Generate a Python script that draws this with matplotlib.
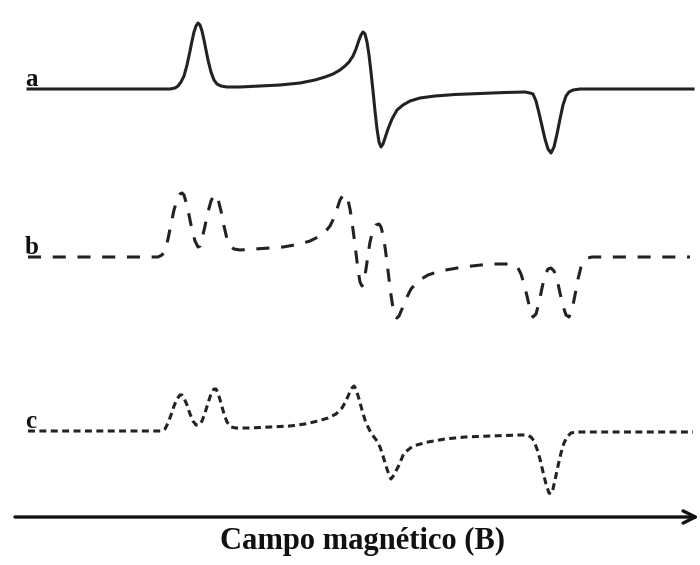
import matplotlib
matplotlib.use("Agg")
import matplotlib.pyplot as plt

# magnetic field (arbitrary units) and signal height above each baseline
field_a = [28, 150, 170, 175, 178, 181, 184, 187, 190, 192, 194, 196, 198,
           200, 202, 204, 206, 208, 211, 214, 217, 221, 227, 240, 260, 280,
           300, 315, 325, 333, 340, 345, 349, 353, 356, 359, 361, 363, 365,
           367, 369, 371, 373, 375, 377, 379, 381, 383, 385, 388, 392, 397,
           403, 410, 420, 435, 455, 480, 505, 525, 530, 533, 536, 539, 542,
           545, 548, 551, 554, 557, 560, 563, 566, 569, 573, 580, 693]
signal_a = [0, 0, 0, 1, 3, 7, 13, 24, 38, 48, 57, 63, 66,
            64, 58, 49, 39, 29, 17, 9, 5, 3, 2, 2, 3, 4,
            6, 9, 12, 15, 19, 23, 27, 33, 40, 49, 54, 57, 55,
            47, 34, 17, -2, -22, -40, -53, -58, -55, -49, -40, -30, -21,
            -16, -12, -9, -7, -5.5, -4.5, -3.5, -3, -4, -5, -12, -24, -37,
            -50, -60, -64, -58, -45, -30, -16, -7, -3, -1, 0, 0]

field_b = [28, 158, 162, 165, 168, 171, 174, 177, 180, 182, 184, 186, 189,
           192, 195, 198, 200, 202, 205, 208, 211, 214, 216, 218, 221, 224,
           227, 230, 234, 240, 255, 270, 283, 300, 310, 318, 325, 330, 334,
           337, 340, 343, 346, 348, 350, 352, 354, 356, 358, 360, 362, 364,
           366, 368, 370, 373, 376, 379, 381, 383, 385, 387, 389, 391, 393,
           395, 397, 399, 402, 406, 411, 418, 428, 440, 463, 490, 508, 514,
           518, 521, 524, 527, 530, 533, 536, 539, 542, 545, 548, 551, 554,
           557, 560, 563, 566, 569, 572, 575, 578, 581, 584, 588, 592, 690]
signal_b = [0, 0, 2, 6, 18, 33, 47, 57, 63, 64, 62, 55, 42,
            27, 16, 10, 11, 18, 31, 45, 56, 62, 62, 58, 46, 31,
            18, 11, 8, 7, 8, 9, 10, 13, 16, 20, 25, 31, 39,
            48, 57, 62, 62, 57, 48, 35, 20, 4, -13, -25, -29, -24,
            -12, 2, 15, 27, 32, 33, 30, 22, 10, -5, -22, -38, -51,
            -59, -61, -59, -52, -42, -32, -24, -18, -14, -10, -7, -7, -8,
            -11, -17, -27, -39, -52, -60, -57, -46, -31, -18, -12, -11, -14,
            -22, -36, -49, -58, -60, -53, -38, -22, -10, -4, -1, 0, 0]

field_c = [28, 162, 165, 168, 171, 174, 177, 180, 182, 184, 187, 190, 193,
           196, 199, 202, 205, 208, 211, 214, 216, 218, 221, 224, 227, 231,
           236, 250, 270, 290, 305, 318, 328, 336, 342, 346, 349, 352, 354,
           356, 359, 362, 365, 368, 371, 374, 377, 380, 383, 386, 389, 391,
           394, 399, 404, 413, 428, 445, 465, 490, 520, 527, 531, 534, 537,
           540, 543, 546, 549, 551, 553, 555, 558, 561, 564, 567, 571, 576,
           693]
signal_c = [0, 0, 2, 8, 16, 25, 32, 36, 36, 33, 26, 17, 10,
            6, 6, 10, 18, 28, 37, 42, 42, 38, 28, 17, 9, 4,
            3, 3, 4, 5, 7, 10, 13, 17, 23, 30, 37, 43, 45,
            42, 32, 21, 11, 4, -2, -6, -10, -16, -25, -35, -44, -48,
            -44, -34, -22, -15, -11, -8, -6, -5, -4, -4, -6, -10, -18,
            -28, -41, -53, -62, -63, -58, -49, -35, -22, -12, -6, -2, -1,
            -1]

spectra = [("a", field_a, signal_a, 476, "solid"),
           ("b", field_b, signal_b, 308, (0, (9.4, 8.4))),
           ("c", field_c, signal_c, 134, (0, (5.0, 3.2)))]

plt.rcParams["lines.scale_dashes"] = False

fig = plt.figure(figsize=(7.0, 5.65), dpi=100)
ax = fig.add_axes([0, 0, 1, 1])
ax.set_xlim(0, 700)
ax.set_ylim(0, 565)
ax.axis("off")

for label, field, signal, offset, style in spectra:
    ax.plot(field, [s + offset for s in signal], color="#222222",
            linewidth=2.2, linestyle=style, solid_joinstyle="round",
            dash_capstyle="butt")
    ax.text(25, offset + 3, label, fontsize=18, fontweight="bold",
            family="Liberation Serif", ha="left", va="baseline",
            color="#111111")

# field axis arrow
ax.annotate("", xy=(699, 48), xytext=(15, 48),
            arrowprops=dict(arrowstyle="->", color="#111111", lw=2.4,
                            mutation_scale=22, shrinkA=0, shrinkB=0))
ax.text(363, 16, "Campo magnético (B)", fontsize=22, fontweight="bold",
        family="Liberation Serif", ha="center", va="baseline",
        color="#111111")

fig.savefig("out.png", dpi=100)
